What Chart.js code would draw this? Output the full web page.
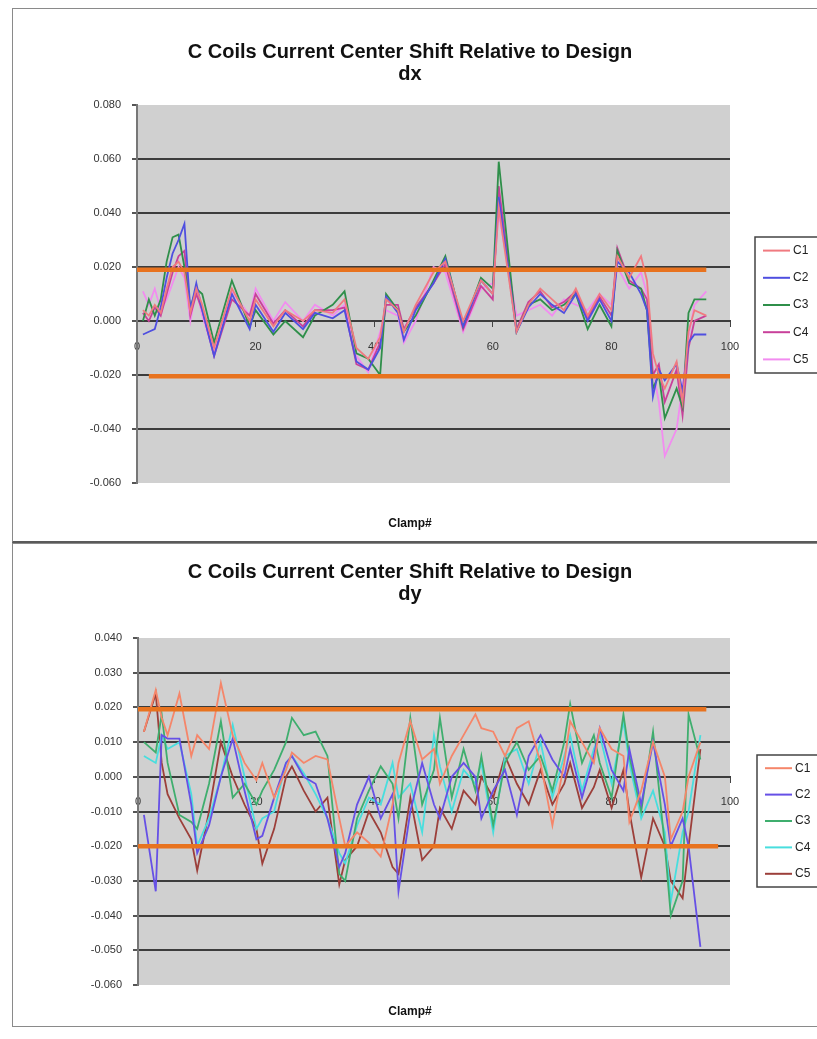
<!DOCTYPE html>
<html>
<head>
<meta charset="utf-8">
<title>C Coils Current Center Shift Relative to Design</title>
<script src="https://cdn.jsdelivr.net/npm/chart.js@4.4.1/dist/chart.umd.min.js"></script>
<style>
  html, body { margin: 0; padding: 0; background: #fff; overflow: hidden; }
  .frame { position: absolute; left: 12px; width: 840px; border-left: 1px solid #8a8a8a; border-top: 1px solid #8a8a8a; }
  #frameDx { top: 8px; height: 532px; border-bottom: 2px solid #5a5a5a; }
  #frameDy { top: 543px; height: 482px; border-bottom: 1px solid #8a8a8a; }
  canvas { display: block; }
</style>
</head>
<body>
<div class="frame" id="frameDx"><canvas id="dxChart" width="840" height="532"></canvas></div>
<div class="frame" id="frameDy"><canvas id="dyChart" width="840" height="482"></canvas></div>
<script>
// C coils current center shift relative to design, per clamp

const seriesNames = ['C1', 'C2', 'C3', 'C4', 'C5'];
const xTickValues = [0, 20, 40, 60, 80, 100];

// dx
const dxClamps = [1, 2, 3, 4, 5, 6, 7, 8, 9, 10, 11, 13, 16, 19, 20, 23, 25, 28, 30, 33, 35, 37, 39, 41, 42, 44, 45, 47, 50, 52, 55, 58, 60, 61, 64, 66, 68, 70, 72, 74, 76, 78, 80, 81, 83, 85, 86, 87, 88, 89, 91, 92, 93, 94, 96];
const dxC1 = [0.004, 0.002, 0.006, 0.003, 0.012, 0.020, 0.022, 0.018, 0.003, 0.012, 0.006, -0.010, 0.012, 0.000, 0.008, -0.002, 0.004, 0.000, 0.004, 0.003, 0.008, -0.010, -0.014, -0.006, 0.008, 0.004, -0.004, 0.006, 0.018, 0.022, 0.000, 0.015, 0.010, 0.042, -0.004, 0.006, 0.012, 0.008, 0.004, 0.012, 0.002, 0.010, 0.004, 0.024, 0.016, 0.024, 0.015, -0.012, -0.020, -0.025, -0.015, -0.030, -0.004, 0.004, 0.002];
const dxC2 = [-0.005, -0.004, -0.003, 0.005, 0.016, 0.025, 0.030, 0.036, 0.004, 0.014, 0.004, -0.013, 0.010, -0.003, 0.006, -0.004, 0.003, -0.003, 0.003, 0.001, 0.004, -0.015, -0.018, -0.010, 0.009, 0.003, -0.007, 0.004, 0.014, 0.023, -0.002, 0.015, 0.010, 0.046, -0.004, 0.005, 0.010, 0.006, 0.003, 0.010, 0.000, 0.008, 0.000, 0.022, 0.018, 0.010, 0.004, -0.028, -0.018, -0.022, -0.016, -0.026, -0.008, -0.005, -0.005];
const dxC3 = [0.000, 0.008, 0.002, 0.008, 0.022, 0.031, 0.032, 0.020, 0.005, 0.012, 0.010, -0.008, 0.015, -0.002, 0.004, -0.005, 0.000, -0.006, 0.002, 0.006, 0.011, -0.012, -0.014, -0.020, 0.010, 0.004, -0.004, 0.002, 0.015, 0.024, -0.002, 0.016, 0.012, 0.059, -0.004, 0.006, 0.008, 0.004, 0.006, 0.010, -0.003, 0.006, -0.002, 0.026, 0.014, 0.012, 0.004, -0.025, -0.020, -0.036, -0.025, -0.032, 0.003, 0.008, 0.008];
const dxC4 = [0.003, 0.000, 0.005, 0.002, 0.010, 0.018, 0.024, 0.026, 0.002, 0.010, 0.004, -0.013, 0.008, 0.002, 0.010, -0.001, 0.004, -0.002, 0.004, 0.004, 0.005, -0.016, -0.018, -0.008, 0.006, 0.006, -0.003, 0.005, 0.014, 0.021, -0.003, 0.013, 0.008, 0.050, -0.003, 0.007, 0.011, 0.005, 0.007, 0.011, 0.001, 0.009, 0.002, 0.027, 0.015, 0.012, 0.008, -0.020, -0.016, -0.030, -0.018, -0.035, -0.010, 0.000, 0.002];
const dxC5 = [0.011, 0.006, 0.012, 0.004, 0.008, 0.014, 0.020, 0.016, 0.000, 0.012, 0.002, -0.012, 0.011, 0.002, 0.012, 0.000, 0.007, 0.000, 0.006, 0.002, 0.006, -0.013, -0.019, -0.004, 0.004, 0.002, -0.008, 0.000, 0.020, 0.018, -0.004, 0.012, 0.014, 0.040, 0.002, 0.004, 0.006, 0.002, 0.008, 0.006, 0.004, 0.010, 0.006, 0.020, 0.012, 0.018, 0.010, -0.018, -0.030, -0.050, -0.040, -0.024, -0.006, 0.006, 0.011];
const dxTickValues = [-0.06, -0.04, -0.02, 0, 0.02, 0.04, 0.06, 0.08];
const dxUpperX = [0, 96];
const dxUpperY = [0.019, 0.019];
const dxLowerX = [2, 100];
const dxLowerY = [-0.0205, -0.0205];

// dy
const dyClamps = [1, 3, 4, 5, 7, 9, 10, 12, 14, 16, 18, 20, 21, 23, 25, 26, 28, 30, 32, 34, 35, 37, 39, 41, 43, 44, 46, 48, 50, 51, 53, 55, 57, 58, 60, 62, 64, 66, 68, 70, 72, 73, 75, 77, 78, 80, 82, 83, 85, 87, 89, 90, 92, 93, 95];
const dyC1 = [0.013, 0.025, 0.017, 0.012, 0.024, 0.006, 0.012, 0.008, 0.027, 0.012, 0.004, -0.001, 0.004, -0.006, 0.002, 0.007, 0.004, 0.006, 0.005, -0.012, -0.020, -0.016, -0.019, -0.023, -0.008, 0.004, 0.016, 0.005, 0.008, -0.002, 0.006, 0.012, 0.018, 0.014, 0.013, 0.006, 0.014, 0.016, 0.004, -0.014, 0.004, 0.016, 0.010, 0.004, 0.014, 0.008, 0.006, -0.013, -0.004, 0.010, 0.000, -0.018, -0.010, 0.000, 0.010];
const dyC2 = [-0.011, -0.033, 0.012, 0.011, 0.011, -0.008, -0.022, -0.014, 0.000, 0.011, -0.004, -0.018, -0.017, -0.006, 0.004, 0.006, 0.000, -0.002, -0.012, -0.026, -0.022, -0.008, 0.000, -0.012, -0.005, -0.033, -0.010, 0.004, -0.008, -0.012, 0.000, 0.004, 0.000, -0.012, -0.004, 0.002, -0.011, 0.006, 0.012, 0.005, 0.000, 0.008, -0.006, 0.006, 0.014, 0.002, -0.004, 0.008, -0.008, 0.010, -0.008, -0.020, -0.012, -0.020, -0.049];
const dyC3 = [0.010, 0.007, 0.018, 0.004, -0.011, -0.013, -0.015, -0.002, 0.016, -0.006, -0.002, -0.008, -0.004, 0.002, 0.010, 0.017, 0.012, 0.013, 0.006, -0.028, -0.030, -0.012, -0.004, 0.003, -0.002, -0.012, 0.017, -0.008, 0.002, 0.017, -0.006, 0.008, -0.004, 0.006, -0.014, 0.004, 0.010, 0.002, 0.006, -0.004, 0.010, 0.021, 0.004, 0.012, 0.004, -0.006, 0.018, 0.006, -0.010, 0.013, -0.020, -0.040, -0.030, 0.018, 0.005];
const dyC4 = [0.006, 0.004, 0.012, 0.008, 0.010, -0.005, -0.020, -0.012, 0.000, 0.015, 0.000, -0.015, -0.012, -0.010, 0.004, 0.006, 0.001, -0.005, -0.012, -0.022, -0.025, -0.014, -0.006, -0.008, 0.004, -0.006, -0.002, -0.016, 0.012, 0.003, -0.010, 0.002, -0.002, 0.004, -0.016, 0.006, 0.008, -0.002, 0.010, -0.006, 0.006, 0.012, -0.004, 0.008, 0.012, -0.002, 0.016, 0.004, -0.012, -0.004, -0.016, -0.036, -0.016, -0.010, 0.012];
const dyC5 = [0.013, 0.024, 0.004, -0.005, -0.012, -0.018, -0.027, -0.010, 0.010, 0.000, -0.008, -0.015, -0.025, -0.015, 0.000, 0.003, -0.004, -0.010, -0.006, -0.031, -0.024, -0.020, -0.010, -0.016, -0.026, -0.028, -0.006, -0.024, -0.020, -0.009, -0.015, -0.004, -0.008, 0.000, -0.006, 0.006, -0.002, -0.008, 0.002, -0.008, -0.002, 0.004, -0.009, -0.003, 0.002, -0.009, 0.002, -0.010, -0.029, -0.012, -0.020, -0.030, -0.035, -0.020, 0.008];
const dyTickValues = [-0.06, -0.05, -0.04, -0.03, -0.02, -0.01, 0, 0.01, 0.02, 0.03, 0.04];
const dyUpperX = [0, 96];
const dyUpperY = [0.0195, 0.0195];
const dyLowerX = [0, 98];
const dyLowerY = [-0.02, -0.02];

const dxColors = ['#f07a80', '#4f4fe0', '#2f8f4a', '#c8409a', '#f28cf0'];
const dyColors = ['#f5866a', '#6650e6', '#3fae6e', '#48dede', '#9c3f3a'];
const limitColor = '#e8731f';
const FONT = "'Liberation Sans', Arial, sans-serif";

Chart.defaults.font.family = FONT;

function toPoints(xs, ys) {
  return xs.map((x, i) => ({ x: x, y: ys[i] }));
}

const plotBackground = {
  id: 'plotBackground',
  beforeDraw(chart) {
    const { ctx, chartArea: a } = chart;
    ctx.save();
    ctx.fillStyle = '#d0d0d0';
    ctx.fillRect(a.left, a.top, a.right - a.left, a.bottom - a.top);
    ctx.restore();
  }
};

// Excel style legend box with line samples
const boxLegend = {
  id: 'boxLegend',
  afterDraw(chart, args, opts) {
    const ctx = chart.ctx;
    const items = chart.data.datasets.filter(d => !d.isLimit);
    const rowH = opts.height / items.length;
    ctx.save();
    ctx.fillStyle = '#fff';
    ctx.fillRect(opts.left, opts.top, opts.width, opts.height);
    ctx.strokeStyle = '#444';
    ctx.lineWidth = 1.5;
    ctx.strokeRect(opts.left, opts.top, opts.width, opts.height);
    ctx.font = '12px ' + FONT;
    ctx.textBaseline = 'middle';
    items.forEach((ds, i) => {
      const y = opts.top + rowH * (i + 0.5);
      ctx.strokeStyle = ds.borderColor;
      ctx.lineWidth = 2;
      ctx.beginPath();
      ctx.moveTo(opts.left + 8, y);
      ctx.lineTo(opts.left + 35, y);
      ctx.stroke();
      ctx.fillStyle = '#222';
      ctx.fillText(ds.label, opts.left + 38, y);
    });
    ctx.restore();
  }
};

function renderCoilChart(canvasId, cfg) {
  const ctx = document.getElementById(canvasId);
  const datasets = cfg.series.map((vals, i) => ({
    label: seriesNames[i],
    data: toPoints(cfg.clamps, vals),
    borderColor: cfg.colors[i],
    borderWidth: 1.8,
    pointRadius: 0,
    tension: 0
  }));
  cfg.limits.forEach(l => datasets.push({
    label: 'limit',
    isLimit: true,
    data: toPoints(l[0], l[1]),
    borderColor: limitColor,
    borderWidth: 4.5,
    pointRadius: 0,
    order: -1
  }));
  const lastTick = cfg.ticks.length - 1;

  new Chart(ctx, {
    type: 'line',
    data: { datasets: datasets },
    plugins: [plotBackground, boxLegend],
    options: {
      responsive: false,
      animation: false,
      events: [],
      layout: { padding: { left: 77, right: 123, top: 0, bottom: 0 } },
      scales: {
        x: {
          type: 'linear',
          min: 0,
          max: 100,
          position: { y: 0 },
          afterBuildTicks: s => { s.ticks = xTickValues.map(v => ({ value: v })); },
          ticks: { color: '#333', font: { size: 11 }, padding: 14, maxRotation: 0, autoSkip: false },
          grid: { drawOnChartArea: false, tickColor: '#444', tickLength: 5 },
          border: { color: '#3c3c3c', width: 2 }
        },
        y: {
          min: cfg.ticks[0],
          max: cfg.ticks[lastTick],
          afterBuildTicks: s => { s.ticks = cfg.ticks.map(v => ({ value: v })); },
          afterFit: s => { s.width = cfg.axisWidth; },
          ticks: {
            color: '#333',
            font: { size: 11 },
            padding: 11,
            callback: v => Number(v).toFixed(3)
          },
          grid: {
            color: c => (c.index === 0 || c.index === lastTick) ? 'rgba(0,0,0,0)' : '#3c3c3c',
            lineWidth: 2,
            tickColor: '#555',
            tickLength: 5
          },
          border: { color: '#777', width: 2 }
        }
      },
      plugins: {
        legend: { display: false },
        tooltip: { enabled: false },
        title: {
          display: true,
          text: cfg.title,
          color: '#111',
          font: { size: 20, weight: 'bold', lineHeight: 1.1 },
          padding: cfg.titlePadding
        },
        subtitle: {
          display: true,
          position: 'bottom',
          text: 'Clamp#',
          color: '#111',
          font: { size: 12, weight: 'bold', lineHeight: 1.2 },
          padding: cfg.subPadding
        },
        boxLegend: cfg.legend
      }
    }
  });
}

renderCoilChart('dxChart', {
  clamps: dxClamps,
  series: [dxC1, dxC2, dxC3, dxC4, dxC5],
  colors: dxColors,
  limits: [[dxUpperX, dxUpperY], [dxLowerX, dxLowerY]],
  ticks: dxTickValues,
  title: ['C Coils Current Center Shift Relative to Design', 'dx'],
  axisWidth: 47,
  titlePadding: { top: 32, bottom: 20 },
  subPadding: { top: 33.8, bottom: 9.8 },
  legend: { left: 742, top: 228, width: 80, height: 136 }
});

renderCoilChart('dyChart', {
  clamps: dyClamps,
  series: [dyC1, dyC2, dyC3, dyC4, dyC5],
  colors: dyColors,
  limits: [[dyUpperX, dyUpperY], [dyLowerX, dyLowerY]],
  ticks: dyTickValues,
  title: ['C Coils Current Center Shift Relative to Design', 'dy'],
  axisWidth: 48,
  titlePadding: { top: 17, bottom: 33 },
  subPadding: { top: 19.8, bottom: 6.8 },
  legend: { left: 744, top: 211, width: 80, height: 132 }
});
</script>
</body>
</html>
